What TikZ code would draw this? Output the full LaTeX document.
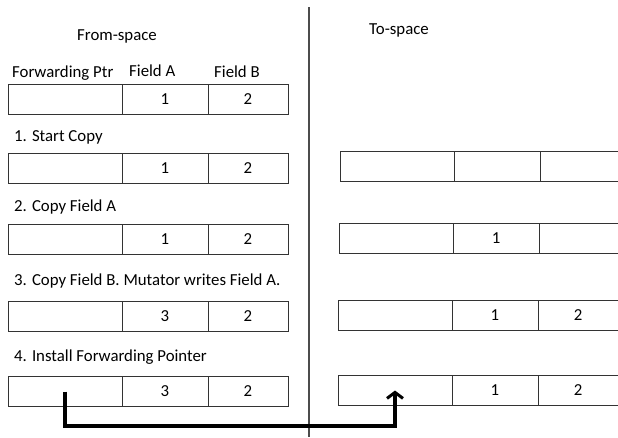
\documentclass[tikz,border=0pt]{standalone}
\usepackage{fontspec}
\setmainfont{Carlito}
\usepackage{tikz}
\usetikzlibrary{arrows.meta}

\tikzset{
  cell/.style={draw=black!80, line width=1pt, minimum height=30pt, inner sep=0pt, outer sep=0pt},
  ptrcell/.style={cell, minimum width=114pt},
  acell/.style={cell, minimum width=86pt},
  bcell/.style={cell, minimum width=80pt},
  lbl/.style={anchor=base west, inner sep=0pt},
  ptr/.style={line width=3.2pt, line join=miter, -{Straight Barb[length=6pt,width=16pt,line width=3pt]}}
}

\begin{document}
\begin{tikzpicture}[x=1pt, y=-1pt, font=\fontsize{16.8}{19}\selectfont]
  \useasboundingbox (0,0) rectangle (618,437);
  \clip (0,0) rectangle (618,437);

  % divisore
  \draw[black!70, line width=1.3pt] (309,7) -- (309,437);

  % titoli
  \node[lbl] (from) at (77,40) {From-space};
  \node[lbl] (to) at (369,34) {To-space};
  \node[lbl] (hptr) at (12,77) {Forwarding Ptr};
  \node[lbl] (ha) at (129,76) {Field A};
  \node[lbl] (hb) at (214,77) {Field B};

  % from-space
  \node[ptrcell] (f0p) at (65,99) {};
  \node[acell] (f0a) at (165,99) {1};
  \node[bcell] (f0b) at (248,99) {2};

  \node[lbl] (s1) at (14,141) {1. Start Copy};
  \node[ptrcell] (f1p) at (65,168.5) {};
  \node[acell] (f1a) at (165,168.5) {1};
  \node[bcell] (f1b) at (248,168.5) {2};

  \node[lbl] (s2) at (14,211) {2. Copy Field A};
  \node[ptrcell] (f2p) at (65,239) {};
  \node[acell] (f2a) at (165,239) {1};
  \node[bcell] (f2b) at (248,239) {2};

  \node[lbl] (s3) at (14,285) {3. Copy Field B. Mutator writes Field A.};
  \node[ptrcell] (f3p) at (65,316.5) {};
  \node[acell] (f3a) at (165,316.5) {3};
  \node[bcell] (f3b) at (248,316.5) {2};

  \node[lbl] (s4) at (14,361) {4. Install Forwarding Pointer};
  \node[ptrcell] (f4p) at (65,391.5) {};
  \node[acell] (f4a) at (165,391.5) {3};
  \node[bcell] (f4b) at (248,391.5) {2};

  % to-space
  \node[ptrcell] (t1p) at (397,166) {};
  \node[acell] (t1a) at (497,166) {};
  \node[bcell] (t1b) at (580,166) {};

  \node[ptrcell] (t2p) at (396,238) {};
  \node[acell] (t2a) at (496,238) {1};
  \node[bcell] (t2b) at (579,238) {};

  \node[ptrcell] (t3p) at (395,315.5) {};
  \node[acell] (t3a) at (495,315.5) {1};
  \node[bcell] (t3b) at (578,315.5) {2};

  \node[ptrcell] (t4p) at (395,390.5) {};
  \node[acell] (t4a) at (495,390.5) {1};
  \node[bcell] (t4b) at (578,390.5) {2};

  % forwarding pointer
  \coordinate (bend) at (0,426);
  \draw[ptr] (f4p.center) -- (f4p.center |- bend) -- (t4p.center |- bend) -- (t4p.center);
\end{tikzpicture}
\end{document}
